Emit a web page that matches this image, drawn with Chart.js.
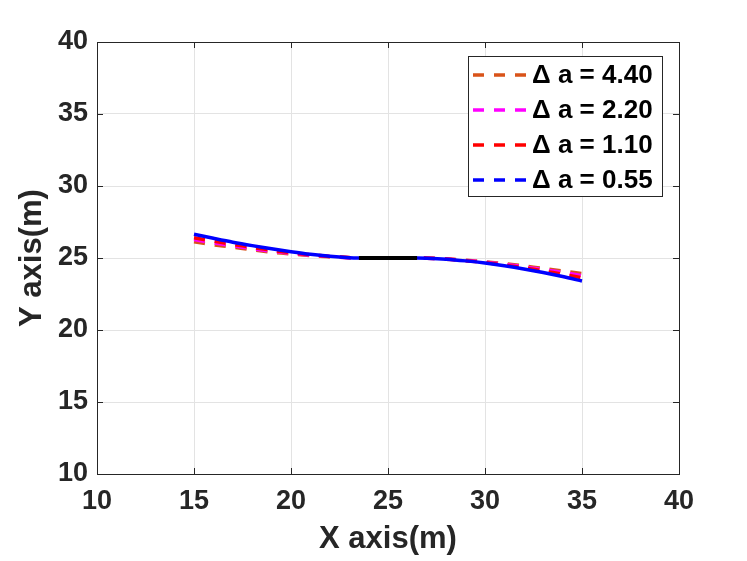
<!DOCTYPE html>
<html>
<head>
<meta charset="utf-8">
<script src="https://cdn.jsdelivr.net/npm/chart.js@4/dist/chart.umd.min.js"></script>
<style>
  html, body { margin: 0; padding: 0; background: #fff; }
  #wrap { width: 747px; height: 561px; }
</style>
</head>
<body>
<div id="wrap"><canvas id="chart"></canvas></div>
<script>
// path samples
const leftX  = [15, 16, 17, 18, 19, 20, 21, 22, 23, 23.5];
const rightX = [26.5, 27, 28, 29, 30, 31, 32, 33, 34, 35];

const seriesLabels = ['\u0394 a = 4.40', '\u0394 a = 2.20', '\u0394 a = 1.10', '\u0394 a = 0.55'];
const seriesColors = ['#D95319', '#FF00FF', '#FF0000', '#0000FF'];

const leftY44  = [26.12, 25.92, 25.75, 25.57, 25.41, 25.28, 25.17, 25.08, 25.02, 25.0];
const rightY44 = [25.0, 25.0, 24.94, 24.85, 24.74, 24.60, 24.45, 24.28, 24.10, 23.92];
const leftY22  = [26.28, 26.05, 25.85, 25.65, 25.47, 25.32, 25.20, 25.10, 25.02, 25.0];
const rightY22 = [25.0, 24.99, 24.93, 24.83, 24.71, 24.56, 24.39, 24.20, 24.00, 23.78];
const leftY11  = [26.40, 26.17, 25.95, 25.74, 25.54, 25.37, 25.23, 25.11, 25.03, 25.0];
const rightY11 = [25.0, 24.99, 24.92, 24.81, 24.68, 24.51, 24.32, 24.10, 23.87, 23.62];
const leftY055  = [26.65, 26.37, 26.10, 25.86, 25.64, 25.44, 25.26, 25.12, 25.02, 25.0];
const rightY055 = [25.0, 24.99, 24.92, 24.80, 24.65, 24.46, 24.24, 23.99, 23.71, 23.40];

// straight middle piece
const midX = [23.5, 26.5];
const midY = [25, 25];

const xTicks = [10, 15, 20, 25, 30, 35, 40];
const yTicks = [10, 15, 20, 25, 30, 35, 40];

const FONT = "'Liberation Sans', Arial, sans-serif";
const INK = '#262626';

function toPoints(xs, ys) {
    return xs.map((x, i) => ({ x: x, y: ys[i] }));
}

function path(xl, yl, xr, yr) {
    return toPoints(xl, yl).concat(toPoints(xr, yr));
}

const paths = [
    path(leftX, leftY44, rightX, rightY44),
    path(leftX, leftY22, rightX, rightY22),
    path(leftX, leftY11, rightX, rightY11),
    path(leftX, leftY055, rightX, rightY055)
];

const datasets = paths.map((pts, i) => ({
    label: seriesLabels[i],
    data: pts,
    borderColor: seriesColors[i],
    borderWidth: 3.5,
    borderDash: i < 3 ? [11, 10] : [],
    pointRadius: 0,
    tension: 0.3,
    fill: false,
    order: 10 - i
}));

datasets.push({
    label: 'mid',
    data: toPoints(midX, midY),
    borderColor: '#000000',
    borderWidth: 4,
    pointRadius: 0,
    fill: false,
    order: 0
});

// frame round the plot + legend box in top right
const framePlugin = {
    id: 'frame',
    afterDraw(chart) {
        const { ctx, chartArea: a } = chart;
        ctx.save();
        ctx.strokeStyle = INK;
        ctx.lineWidth = 1;
        ctx.strokeRect(a.left + 0.5, a.top + 0.5, a.right - a.left, a.bottom - a.top);

        // small inward ticks, matlab style
        const xs = chart.scales.x, ys = chart.scales.y;
        ctx.beginPath();
        xTicks.forEach(v => {
            const px = Math.round(xs.getPixelForValue(v)) + 0.5;
            ctx.moveTo(px, a.bottom); ctx.lineTo(px, a.bottom - 6);
            ctx.moveTo(px, a.top); ctx.lineTo(px, a.top + 6);
        });
        yTicks.forEach(v => {
            const py = Math.round(ys.getPixelForValue(v)) + 0.5;
            ctx.moveTo(a.left, py); ctx.lineTo(a.left + 6, py);
            ctx.moveTo(a.right, py); ctx.lineTo(a.right - 6, py);
        });
        ctx.stroke();

        // legend
        const bx = a.right - 211, by = a.top + 14, bw = 194, bh = 140;
        ctx.fillStyle = '#fff';
        ctx.fillRect(bx, by, bw, bh);
        ctx.strokeStyle = INK;
        ctx.strokeRect(bx + 0.5, by + 0.5, bw, bh);
        ctx.font = 'bold 26px ' + FONT;
        ctx.textBaseline = 'middle';
        ctx.textAlign = 'left';
        seriesLabels.forEach((lab, i) => {
            const cy = by + 19 + i * 35;
            ctx.strokeStyle = seriesColors[i];
            ctx.lineWidth = 3.5;
            ctx.setLineDash([11, 10]);
            ctx.beginPath();
            ctx.moveTo(bx + 5, cy);
            ctx.lineTo(bx + 59, cy);
            ctx.stroke();
            ctx.setLineDash([]);
            ctx.fillStyle = '#000';
            ctx.fillText(lab, bx + 64, cy + 1);
        });
        ctx.restore();
    }
};

new Chart(document.getElementById('chart'), {
    type: 'line',
    data: { datasets: datasets },
    options: {
        responsive: true,
        maintainAspectRatio: false,
        animation: false,
        layout: { padding: { left: 0, right: 68, top: 42, bottom: 0 } },
        plugins: {
            legend: { display: false },
            tooltip: { enabled: false }
        },
        scales: {
            x: {
                type: 'linear',
                min: 10,
                max: 40,
                afterBuildTicks: s => { s.ticks = xTicks.map(v => ({ value: v })); },
                afterFit: s => { s.height = 87; },
                border: { display: false },
                grid: { color: '#e3e3e3', drawTicks: false },
                ticks: {
                    color: INK,
                    padding: 11,
                    font: { family: FONT, size: 27, weight: 'bold' }
                },
                title: {
                    display: true,
                    text: 'X axis(m)',
                    color: INK,
                    padding: { top: 0, bottom: 3 },
                    font: { family: FONT, size: 31, weight: 'bold' }
                }
            },
            y: {
                type: 'linear',
                min: 10,
                max: 40,
                afterBuildTicks: s => { s.ticks = yTicks.map(v => ({ value: v })); },
                afterFit: s => { s.width = 97; },
                border: { display: false },
                grid: { color: '#e3e3e3', drawTicks: false },
                ticks: {
                    color: INK,
                    padding: 9,
                    font: { family: FONT, size: 27, weight: 'bold' }
                },
                title: {
                    display: true,
                    text: 'Y axis(m)',
                    color: INK,
                    padding: { top: 14, bottom: 0 },
                    font: { family: FONT, size: 31, weight: 'bold' }
                }
            }
        }
    },
    plugins: [framePlugin]
});
</script>
</body>
</html>
